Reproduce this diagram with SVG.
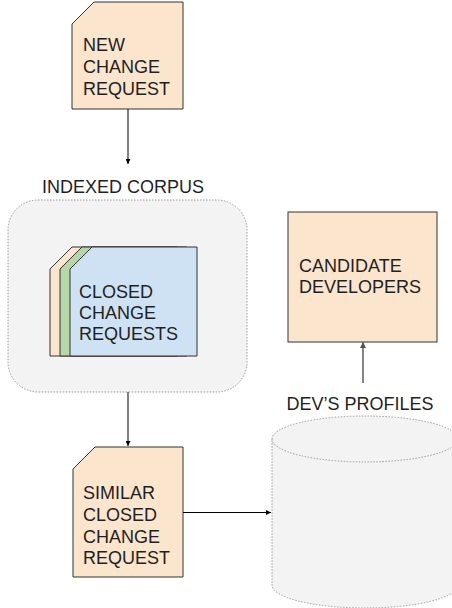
<svg xmlns="http://www.w3.org/2000/svg" width="452" height="608" viewBox="0 0 452 608">
<style>
text{font-family:"Liberation Sans",Arial,sans-serif;font-size:18px;fill:#1f1f1f}
.card{stroke:#333;stroke-width:1}
.peach{fill:#fce5cd}
.green{fill:#b6d7a8}
.blue{fill:#cfe2f3}
.dot{fill:#f3f3f3;stroke:#9a9a9a;stroke-width:1;stroke-dasharray:1.5 1.5}
.conn{fill:none;stroke:#000;stroke-width:1}
</style>
<defs>
<marker id="ah" viewBox="0 0 10 10" refX="10" refY="5" markerWidth="5" markerHeight="5" orient="auto" markerUnits="userSpaceOnUse">
<path d="M0,0 L10,5 L0,10 z" fill="#000"/>
</marker>
<marker id="ahg" viewBox="0 0 10 10" refX="10" refY="5" markerWidth="6" markerHeight="6" orient="auto" markerUnits="userSpaceOnUse">
<path d="M0,0 L10,5 L0,10 z" fill="#555"/>
</marker>
</defs>

<g id="new-change-request">
<path class="card peach" d="M94,2 H183 V109 H72 V24 Z"/>
<text x="83" y="51">NEW</text>
<text x="83" y="73">CHANGE</text>
<text x="83" y="95">REQUEST</text>
</g>

<g id="indexed-corpus">
<text x="42" y="193">INDEXED CORPUS</text>
<rect class="dot" x="8" y="200" width="239" height="192" rx="30" ry="30"/>
</g>

<g id="closed-change-requests">
<path class="card peach" d="M72,247 H177 V356 H50 V269 Z"/>
<path class="card green" d="M82,247 H187 V356 H60 V269 Z"/>
<path class="card blue" d="M92,247 H197 V356 H70 V269 Z"/>
<text x="79" y="298">CLOSED</text>
<text x="79" y="319">CHANGE</text>
<text x="79" y="340">REQUESTS</text>
</g>

<g id="similar-closed-change-request">
<path class="card peach" d="M95,447 H183 V577 H73 V469 Z"/>
<text x="83" y="499">SIMILAR</text>
<text x="83" y="521">CLOSED</text>
<text x="83" y="543">CHANGE</text>
<text x="83" y="564">REQUEST</text>
</g>

<g id="devs-profiles">
<text x="360" y="410" text-anchor="middle">DEV’S PROFILES</text>
<path class="dot" d="M272,439 A93,23 0 0 1 458,439 V585 A93,23 0 0 1 272,585 Z"/>
<path class="dot" fill="none" d="M272,439 A93,23 0 0 0 458,439"/>
</g>

<g id="candidate-developers">
<rect class="card peach" x="288" y="212" width="149" height="130"/>
<text x="299" y="272">CANDIDATE</text>
<text x="299" y="293">DEVELOPERS</text>
</g>

<g id="connectors">
<line class="conn" x1="128" y1="109" x2="128" y2="164" marker-end="url(#ah)"/>
<line class="conn" x1="128" y1="392" x2="128" y2="446" marker-end="url(#ah)"/>
<line class="conn" x1="183" y1="512.5" x2="271" y2="512.5" marker-end="url(#ah)"/>
<line class="conn" x1="363" y1="383" x2="363" y2="342" stroke="#666" style="stroke:#666;stroke-width:1.6" marker-end="url(#ahg)"/>
</g>
</svg>
